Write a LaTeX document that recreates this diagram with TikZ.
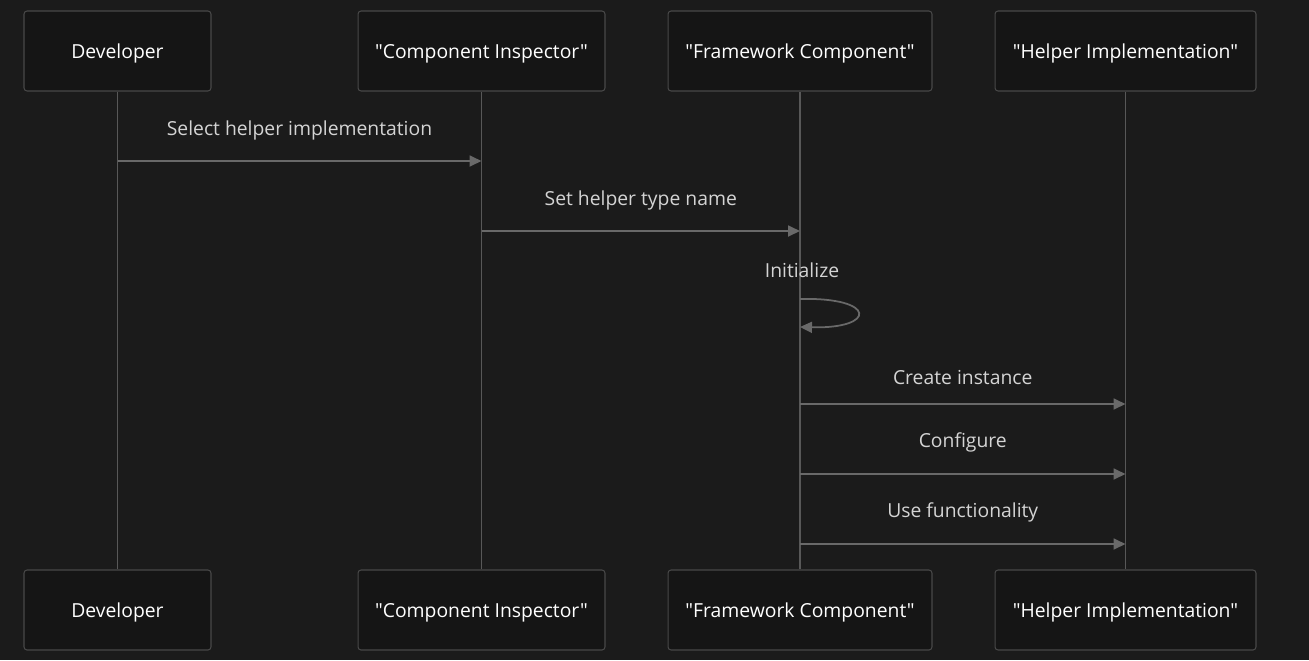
\documentclass[tikz,border=0pt]{standalone}
\usepackage{fontspec}
\setmainfont{Open Sans}[Ligatures=TeXOff]
\usetikzlibrary{positioning, arrows.meta, calc}
\definecolor{bgcol}{RGB}{27,27,27}
\definecolor{boxfill}{RGB}{21,21,21}
\definecolor{boxline}{RGB}{72,72,72}
\definecolor{lifecol}{RGB}{88,88,88}
\definecolor{msgcol}{RGB}{105,105,105}
\definecolor{msgtext}{RGB}{212,212,212}

\begin{document}
\begin{tikzpicture}[%
    x=0.02cm, y=-0.02cm,
    >={Triangle[length=2.4mm,width=2.2mm]},
    every node/.style={%
      font=\fontsize{11}{13}\selectfont,
      text centered,
      align=center
    },
    actor/.style={draw=boxline,fill=boxfill,line width=0.6pt,rounded corners=0.6mm,
      text=white,minimum height=1.6cm,inner sep=0pt,text depth=0pt},
    life/.style={draw=lifecol,line width=1pt},
    msg/.style={draw=msgcol,fill=msgcol,line width=1pt,->},
    msglabel/.style={text=msgtext}
  ]

  \fill[bgcol] (0,0) rectangle (1309,660);
  \useasboundingbox (0,0) rectangle (1309,660);

  % Actors, top row
  \node[actor, minimum width=3.74cm] (dev) at (117.5,51) {Developer};
  \node[actor, minimum width=4.94cm] (insp) at (481.5,51) {"Component Inspector"};
  \node[actor, minimum width=5.28cm] (frame) at (800,51) {"Framework Component"};
  \node[actor, minimum width=5.22cm] (helper) at (1125.5,51) {"Helper Implementation"};

  % Actors, bottom row
  \node[actor, minimum width=3.74cm] (devb) at (117.5,610) {Developer};
  \node[actor, minimum width=4.94cm] (inspb) at (481.5,610) {"Component Inspector"};
  \node[actor, minimum width=5.28cm] (frameb) at (800,610) {"Framework Component"};
  \node[actor, minimum width=5.22cm] (helperb) at (1125.5,610) {"Helper Implementation"};

  % Lifelines
  \draw[life] (dev.south) -- (devb.north);
  \draw[life] (insp.south) -- (inspb.north);
  \draw[life] (frame.south) -- (frameb.north);
  \draw[life] (helper.south) -- (helperb.north);

  % Message end points
  \coordinate (m1a) at (dev.south |- 0,161);
  \coordinate (m1b) at (insp.south |- 0,161);
  \coordinate (m2a) at (insp.south |- 0,231);
  \coordinate (m2b) at (frame.south |- 0,231);
  \coordinate (s1) at (frame.south |- 0,299);
  \coordinate (s2) at (frame.south |- 0,327);
  \coordinate (m3a) at (frame.south |- 0,404);
  \coordinate (m3b) at (helper.south |- 0,404);
  \coordinate (m4a) at (frame.south |- 0,474);
  \coordinate (m4b) at (helper.south |- 0,474);
  \coordinate (m5a) at (frame.south |- 0,544);
  \coordinate (m5b) at (helper.south |- 0,544);

  % Messages
  \draw[msg] (m1a) -- (m1b);
  \node[msglabel] (l1) at ($(m1a)!0.5!(m1b)+(0,-31)$) {Select helper implementation};
  \draw[msg] (m2a) -- (m2b);
  \node[msglabel] (l2) at ($(m2a)!0.5!(m2b)+(0,-31)$) {Set helper type name};
  \node[msglabel] (l3) at ($(s1)+(2,-29)$) {Initialize};
  \draw[msg,fill=none] (s1) .. controls (877,297) and (877,329) .. (s2);
  \draw[msg] (m3a) -- (m3b);
  \node[msglabel] (l4) at ($(m3a)!0.5!(m3b)+(0,-27)$) {Create instance};
  \draw[msg] (m4a) -- (m4b);
  \node[msglabel] (l5) at ($(m4a)!0.5!(m4b)+(0,-32)$) {Configure};
  \draw[msg] (m5a) -- (m5b);
  \node[msglabel] (l6) at ($(m5a)!0.5!(m5b)+(0,-32)$) {Use functionality};

\end{tikzpicture}
\end{document}
